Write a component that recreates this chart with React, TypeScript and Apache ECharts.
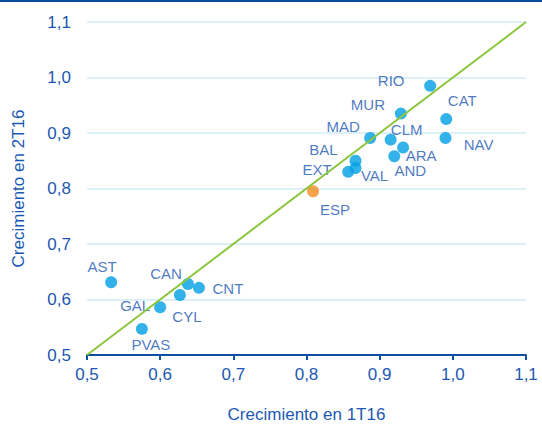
import React, { useEffect, useRef } from "react";
import * as echarts from "echarts";

const regions = ["AST", "CAN", "CNT", "CYL", "GAL", "PVAS", "RIO", "MUR", "CAT", "MAD", "CLM", "NAV", "ARA", "AND", "BAL", "VAL", "EXT", "ESP"];
const growth1T16 = [0.533, 0.638, 0.653, 0.627, 0.600, 0.575, 0.969, 0.929, 0.991, 0.887, 0.915, 0.990, 0.932, 0.920, 0.867, 0.867, 0.857, 0.809];
const growth2T16 = [0.631, 0.628, 0.621, 0.608, 0.586, 0.547, 0.985, 0.935, 0.925, 0.891, 0.888, 0.891, 0.874, 0.858, 0.850, 0.837, 0.830, 0.795];
const labelOffsets: [number, number][] = [
  [-9, -16], [-22, -10], [29, 1], [7, 21], [-25, -2], [9, 16],
  [-39, -5], [-33, -9], [16, -19], [-27, -11], [16, -10], [33, 7],
  [18, 8], [16, 14], [-32, -11], [19, 8], [-31, -2], [22, 18],
];
const diagonal = [[0.5, 0.5], [1.1, 1.1]];
const highlight = "ESP";

const fmt = (v: number) => v.toFixed(1).replace(".", ",");
const textColor = "#1c58b2";
const font = "Liberation Sans, Arial, sans-serif";

export default function App() {
  const ref = useRef<HTMLDivElement>(null);
  useEffect(() => {
    if (!ref.current) return;
    const chart = echarts.init(ref.current, undefined, { renderer: "svg" });
    const pts = regions.map((name, i) => ({
      name,
      value: [growth1T16[i], growth2T16[i]],
      itemStyle: { color: name === highlight ? "#f58c1f" : "#009fe3" },
      label: {
        show: true,
        position: "inside",
        offset: labelOffsets[i],
        formatter: name,
        color: textColor,
        fontSize: 15,
        fontFamily: font,
      },
    }));
    chart.setOption({
      animation: false,
      backgroundColor: "#ffffff",
      graphic: [
        { type: "rect", left: 0, top: 0, shape: { width: 542, height: 2 }, style: { fill: "#0b4c9c" } },
      ],
      grid: { left: 87, right: 16, top: 22, bottom: 68 },
      xAxis: {
        type: "value",
        min: 0.5,
        max: 1.1,
        interval: 0.1,
        name: "Crecimiento en 1T16",
        nameLocation: "middle",
        nameGap: 51,
        nameTextStyle: { color: textColor, fontSize: 17, fontFamily: font },
        axisLine: { show: true, lineStyle: { color: "#0b4ea2", width: 2 } },
        axisTick: { show: true, length: 5, lineStyle: { color: "#0b4ea2", width: 2 } },
        axisLabel: { formatter: fmt, color: textColor, fontSize: 17, margin: 11, fontFamily: font },
        splitLine: { show: false },
      },
      yAxis: {
        type: "value",
        min: 0.5,
        max: 1.1,
        interval: 0.1,
        name: "Crecimiento en 2T16",
        nameLocation: "middle",
        nameGap: 60,
        nameTextStyle: { color: textColor, fontSize: 17, fontFamily: font },
        axisLine: { show: false },
        axisTick: { show: false },
        axisLabel: { formatter: fmt, color: textColor, fontSize: 17, margin: 16, fontFamily: font },
        splitLine: { show: true, lineStyle: { color: "#d2eaf6", width: 1.5 } },
      },
      series: [
        {
          type: "scatter",
          symbolSize: 12,
          data: pts,
          z: 2,
        },
        {
          type: "line",
          data: diagonal,
          symbol: "none",
          lineStyle: { color: "#8cc63f", width: 2 },
          z: 3,
        },
      ],
    });
    return () => chart.dispose();
  }, []);
  return <div ref={ref} style={{ position: "fixed", left: 0, top: 0, width: 542, height: 428 }} />;
}
